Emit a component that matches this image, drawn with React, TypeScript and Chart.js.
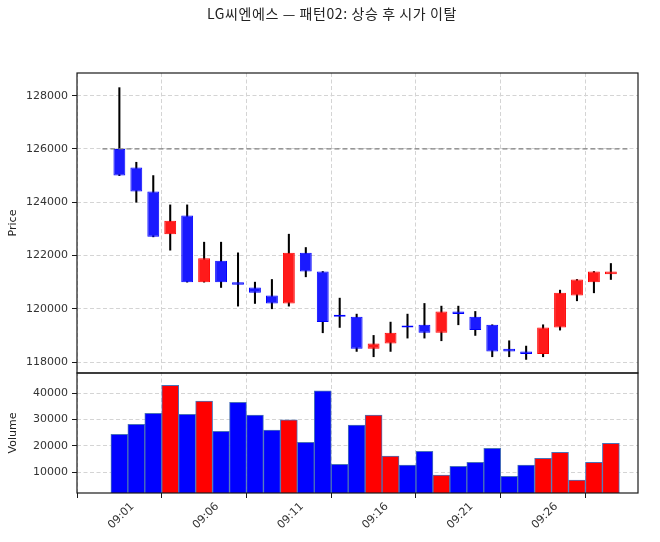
import { useEffect, useRef } from "react"
import { Chart, registerables } from "chart.js"

Chart.register(...registerables)

const title = "LG씨엔에스 — 패턴02: 상승 후 시가 이탈"

const times = [
  "09:01", "09:02", "09:03", "09:04", "09:05", "09:06", "09:07", "09:08", "09:09", "09:10",
  "09:11", "09:12", "09:13", "09:14", "09:15", "09:16", "09:17", "09:18", "09:19", "09:20",
  "09:21", "09:22", "09:23", "09:24", "09:25", "09:26", "09:27", "09:28", "09:29", "09:30",
]

const opens = [
  126000, 125300, 124400, 122800, 123500, 121000, 121800, 121000, 120800, 120500,
  120200, 122100, 121400, 119700, 119700, 118500, 118700, 119300, 119400, 119100,
  119900, 119700, 119400, 118500, 118400, 118300, 119300, 120500, 121000, 121300,
]
const highs = [
  128300, 125500, 125000, 123900, 123900, 122500, 122500, 122100, 121000, 121100,
  122800, 122300, 121400, 120400, 119800, 119000, 119500, 119800, 120200, 120100,
  120100, 119900, 119400, 118800, 118600, 119400, 120700, 121100, 121400, 121700,
]
const lows = [
  125000, 124000, 122700, 122200, 121000, 121000, 120800, 120100, 120200, 120000,
  120100, 121200, 119100, 119300, 118400, 118200, 118400, 118900, 118900, 118800,
  119400, 119000, 118200, 118200, 118100, 118200, 119200, 120300, 120600, 121100,
]
const closes = [
  125000, 124400, 122700, 123300, 121000, 121900, 121000, 120900, 120600, 120200,
  122100, 121400, 119500, 119700, 118500, 118700, 119100, 119300, 119100, 119900,
  119800, 119200, 118400, 118400, 118300, 119300, 120600, 121100, 121400, 121400,
]
const volumes = [
  24400, 28200, 32400, 43000, 32000, 37000, 25600, 36600, 31700, 26000,
  29900, 21400, 40900, 13000, 27900, 31700, 16200, 12700, 18000, 8900,
  12300, 13800, 19100, 8500, 12700, 15300, 17600, 7000, 13800, 21000,
]

// x tick labels every 5 minutes (the last tick is left unlabelled)
const xTickLabels = ["09:01", "09:06", "09:11", "09:16", "09:21", "09:26", ""]
const priceTicks = [118000, 120000, 122000, 124000, 126000, 128000]
const volumeTicks = [10000, 20000, 30000, 40000]

const tickFont = { family: "DejaVu Sans", size: 11 }

export default function App() {
  const canvasRef = useRef<HTMLCanvasElement>(null)
  const chartInstance = useRef<Chart | null>(null)

  useEffect(() => {
    const ctx = canvasRef.current?.getContext("2d")
    if (!ctx) return
    if (chartInstance.current) chartInstance.current.destroy()

    const xs = times.map((t) => Number(t.split(":")[1]))
    const isUp = closes.map((c, i) => c > opens[i])
    const tickValues = xTickLabels.map((_, i) => 1 + i * 5)

    // box around each panel, like matplotlib axes spines
    const framePlugin = {
      id: "frames",
      afterDatasetsDraw(chart: any) {
        const { ctx, chartArea, scales } = chart
        ctx.save()
        ctx.strokeStyle = "#1a1a1a"
        ctx.lineWidth = 1.2
        for (const id of ["y", "yv"]) {
          const s = scales[id]
          ctx.strokeRect(chartArea.left, s.top, chartArea.right - chartArea.left, s.bottom - s.top)
        }
        ctx.restore()
      },
    }

    const gridColor = "#d4d4d4"

    chartInstance.current = new Chart(ctx, {
      type: "bar",
      data: {
        datasets: [
          {
            type: "line",
            label: "시가",
            data: [
              { x: 0, y: opens[0] },
              { x: 31, y: opens[0] },
            ],
            yAxisID: "y",
            borderColor: "#808080",
            borderWidth: 1.2,
            borderDash: [5, 3],
            pointRadius: 0,
            order: 0,
          } as any,
          {
            label: "body",
            data: xs.map((x, i) => ({ x, y: [opens[i], closes[i]] })),
            yAxisID: "y",
            backgroundColor: isUp.map((u) => (u ? "#ff1a1a" : "#1a1aff")),
            borderColor: isUp.map((u) => (u ? "#ff0000" : "#0000ff")),
            borderWidth: 1,
            borderSkipped: false,
            barPercentage: 0.7,
            categoryPercentage: 1,
            grouped: false,
            minBarLength: 2,
            order: 1,
          },
          {
            label: "wick",
            data: xs.map((x, i) => ({ x, y: [lows[i], highs[i]] })),
            yAxisID: "y",
            backgroundColor: "#000000",
            barThickness: 1.4,
            grouped: false,
            order: 2,
          },
          {
            label: "Volume",
            data: xs.map((x, i) => ({ x, y: volumes[i] })),
            yAxisID: "yv",
            backgroundColor: isUp.map((u) => (u ? "#ff0000" : "#0000ff")),
            borderColor: "#4a72b8",
            borderWidth: 1,
            borderSkipped: false,
            barPercentage: 1,
            categoryPercentage: 1,
            grouped: false,
            order: 3,
          },
        ] as any,
      },
      options: {
        responsive: false,
        animation: false,
        layout: { padding: { top: 73, right: 22, left: 0, bottom: 0 } },
        plugins: {
          legend: { display: false },
          tooltip: { enabled: false },
        },
        scales: {
          x: {
            type: "linear",
            min: -1.5,
            max: 31.6,
            offset: false,
            afterBuildTicks: (s: any) => {
              s.ticks = tickValues.map((v) => ({ value: v }))
            },
            afterFit: (s: any) => {
              s.height = 49
            },
            ticks: {
              callback: (_v: any, i: number) => xTickLabels[i],
              minRotation: 45,
              maxRotation: 45,
              labelOffset: 13,
              padding: 2,
              font: tickFont,
              color: "#333",
            },
            grid: { color: gridColor, tickColor: "#1a1a1a", tickLength: 5, tickWidth: 1 },
            border: { display: false, dash: [4, 2.5] },
          },
          // stacked y axes: the later one in this object is placed on top
          yv: {
            type: "linear",
            position: "left",
            stack: "panels",
            stackWeight: 1,
            min: 2140,
            max: 47700,
            afterBuildTicks: (s: any) => {
              s.ticks = volumeTicks.map((v) => ({ value: v }))
            },
            afterFit: (s: any) => {
              s.width = 77
            },
            title: {
              display: true,
              text: "Volume",
              font: tickFont,
              color: "#222",
              padding: { top: 7, bottom: 0 },
            },
            ticks: { font: tickFont, color: "#333", padding: 4, callback: (v: any) => String(v) },
            grid: { color: gridColor, tickColor: "#1a1a1a", tickLength: 5, tickWidth: 1 },
            border: { display: false, dash: [4, 2.5] },
          },
          y: {
            type: "linear",
            position: "left",
            stack: "panels",
            stackWeight: 2.5,
            min: 117590,
            max: 128850,
            afterBuildTicks: (s: any) => {
              s.ticks = priceTicks.map((v) => ({ value: v }))
            },
            afterFit: (s: any) => {
              s.width = 77
            },
            title: {
              display: true,
              text: "Price",
              font: tickFont,
              color: "#222",
              padding: { top: 7, bottom: 0 },
            },
            ticks: { font: tickFont, color: "#333", padding: 4, callback: (v: any) => String(v) },
            grid: { color: gridColor, tickColor: "#1a1a1a", tickLength: 5, tickWidth: 1 },
            border: { display: false, dash: [4, 2.5] },
          },
        },
      } as any,
      plugins: [framePlugin],
    })

    return () => {
      if (chartInstance.current) {
        chartInstance.current.destroy()
        chartInstance.current = null
      }
    }
  }, [])

  return (
    <div style={{ position: "absolute", left: 0, top: 0, width: 660, height: 542, background: "#fff" }}>
      <div
        style={{
          position: "absolute",
          left: 0,
          top: 3,
          width: 664,
          textAlign: "center",
          fontFamily: "'Noto Sans CJK KR', sans-serif",
          fontSize: 14,
          letterSpacing: 0.6,
          color: "#222",
        }}
      >
        {title}
      </div>
      <canvas ref={canvasRef} width={660} height={542} />
    </div>
  )
}
